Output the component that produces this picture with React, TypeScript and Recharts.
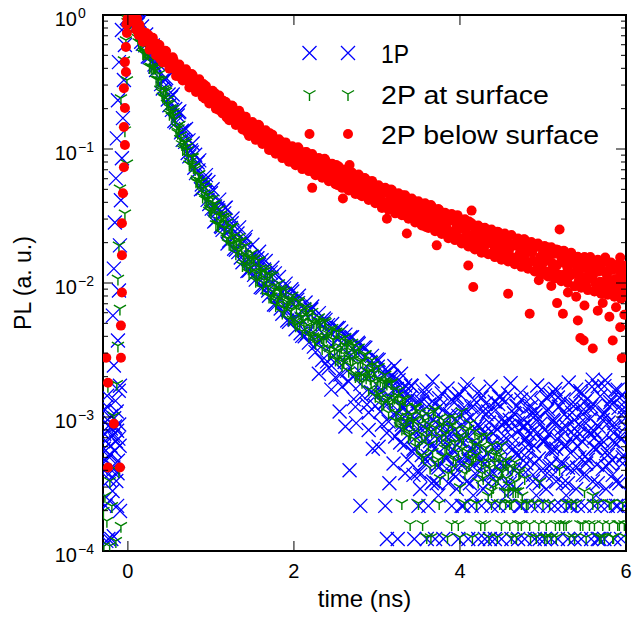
import React from 'react';
import { ScatterChart, Scatter, XAxis, YAxis, ReferenceLine, Legend } from 'recharts';

// ---------- labels / ticks ----------
const seriesNames = ['1P', '2P at surface', '2P below surface'];
const seriesColors = ['#0000ff', '#008000', '#ff0000'];
const legendTextWidths = [28, 168, 218];
const xTicks = [0, 2, 4, 6];
const yTicks = [
  0.0001, 0.0002, 0.0003, 0.0004, 0.0005, 0.0006, 0.0007, 0.0008, 0.0009,
  0.001, 0.002, 0.003, 0.004, 0.005, 0.006, 0.007, 0.008, 0.009,
  0.01, 0.02, 0.03, 0.04, 0.05, 0.06, 0.07, 0.08, 0.09,
  0.1, 0.2, 0.3, 0.4, 0.5, 0.6, 0.7, 0.8, 0.9, 1,
];
const xLabel = 'time (ns)';
const yLabel = 'PL (a. u.)';

// ---------- time grids (ns) ----------
const decayT = [
  0, 0.04, 0.08, 0.12, 0.16, 0.2, 0.24, 0.28, 0.32, 0.36,
  0.4, 0.44, 0.48, 0.52, 0.56, 0.6, 0.64, 0.68, 0.72, 0.76,
  0.8, 0.84, 0.88, 0.92, 0.96, 1, 1.04, 1.08, 1.12, 1.16,
  1.2, 1.24, 1.28, 1.32, 1.36, 1.4, 1.44, 1.48, 1.52, 1.56,
  1.6, 1.64, 1.68, 1.72, 1.76, 1.8, 1.84, 1.88, 1.92, 1.96,
  2, 2.04, 2.08, 2.12, 2.16, 2.2, 2.24, 2.28, 2.32, 2.36,
  2.4, 2.44, 2.48, 2.52, 2.56, 2.6, 2.64, 2.68, 2.72, 2.76,
  2.8, 2.84, 2.88, 2.92, 2.96, 3, 3.04, 3.08, 3.12, 3.16,
  3.2, 3.24, 3.28, 3.32, 3.36, 3.4, 3.44, 3.48, 3.52, 3.56,
  3.6, 3.64, 3.68, 3.72, 3.76, 3.8, 3.84, 3.88, 3.92, 3.96,
  4, 4.04, 4.08, 4.12, 4.16, 4.2, 4.24, 4.28, 4.32, 4.36,
  4.4, 4.44, 4.48, 4.52, 4.56, 4.6, 4.64, 4.68, 4.72, 4.76,
  4.8, 4.84, 4.88, 4.92, 4.96, 5, 5.04, 5.08, 5.12, 5.16,
  5.2, 5.24, 5.28, 5.32, 5.36, 5.4, 5.44, 5.48, 5.52, 5.56,
  5.6, 5.64, 5.68, 5.72, 5.76, 5.8, 5.84, 5.88, 5.92, 5.96,
  6,
];
const decayT2 = [
  0.02, 0.06, 0.1, 0.14, 0.18, 0.22, 0.26, 0.3, 0.34, 0.38,
  0.42, 0.46, 0.5, 0.54, 0.58, 0.62, 0.66, 0.7, 0.74, 0.78,
  0.82, 0.86, 0.9, 0.94, 0.98, 1.02, 1.06, 1.1, 1.14, 1.18,
  1.22, 1.26, 1.3, 1.34, 1.38, 1.42, 1.46, 1.5, 1.54, 1.58,
  1.62, 1.66, 1.7, 1.74, 1.78, 1.82, 1.86, 1.9, 1.94, 1.98,
  2.02, 2.06, 2.1, 2.14, 2.18, 2.22, 2.26, 2.3, 2.34, 2.38,
  2.42, 2.46, 2.5, 2.54, 2.58, 2.62, 2.66, 2.7, 2.74, 2.78,
  2.82, 2.86, 2.9, 2.94, 2.98, 3.02, 3.06, 3.1, 3.14, 3.18,
  3.22, 3.26, 3.3, 3.34, 3.38, 3.42, 3.46, 3.5, 3.54, 3.58,
  3.62, 3.66, 3.7, 3.74, 3.78, 3.82, 3.86, 3.9, 3.94, 3.98,
  4.02, 4.06, 4.1, 4.14, 4.18, 4.22, 4.26, 4.3, 4.34, 4.38,
  4.42, 4.46, 4.5, 4.54, 4.58, 4.62, 4.66, 4.7, 4.74, 4.78,
  4.82, 4.86, 4.9, 4.94, 4.98, 5.02, 5.06, 5.1, 5.14, 5.18,
  5.22, 5.26, 5.3, 5.34, 5.38, 5.42, 5.46, 5.5, 5.54, 5.58,
  5.62, 5.66, 5.7, 5.74, 5.78, 5.82, 5.86, 5.9, 5.94, 5.98,
];
const decayT3 = [
  0.01, 0.05, 0.09, 0.13, 0.17, 0.21, 0.25, 0.29, 0.33, 0.37,
  0.41, 0.45, 0.49, 0.53, 0.57, 0.61, 0.65, 0.69, 0.73, 0.77,
  0.81, 0.85, 0.89, 0.93, 0.97, 1.01, 1.05, 1.09, 1.13, 1.17,
  1.21, 1.25, 1.29, 1.33, 1.37, 1.41, 1.45, 1.49, 1.53, 1.57,
  1.61, 1.65, 1.69, 1.73, 1.77, 1.81, 1.85, 1.89, 1.93, 1.97,
  2.01, 2.05, 2.09, 2.13, 2.17, 2.21, 2.25, 2.29, 2.33, 2.37,
  2.41, 2.45, 2.49, 2.53, 2.57, 2.61, 2.65, 2.69, 2.73, 2.77,
  2.81, 2.85, 2.89, 2.93, 2.97, 3.01, 3.05, 3.09, 3.13, 3.17,
  3.21, 3.25, 3.29, 3.33, 3.37, 3.41, 3.45, 3.49, 3.53, 3.57,
  3.61, 3.65, 3.69, 3.73, 3.77, 3.81, 3.85, 3.89, 3.93, 3.97,
  4.01, 4.05, 4.09, 4.13, 4.17, 4.21, 4.25, 4.29, 4.33, 4.37,
  4.41, 4.45, 4.49, 4.53, 4.57, 4.61, 4.65, 4.69, 4.73, 4.77,
  4.81, 4.85, 4.89, 4.93, 4.97, 5.01, 5.05, 5.09, 5.13, 5.17,
  5.21, 5.25, 5.29, 5.33, 5.37, 5.41, 5.45, 5.49, 5.53, 5.57,
  5.61, 5.65, 5.69, 5.73, 5.77, 5.81, 5.85, 5.89, 5.93, 5.97,
];
const decayT4 = [
  0.03, 0.07, 0.11, 0.15, 0.19, 0.23, 0.27, 0.31, 0.35, 0.39,
  0.43, 0.47, 0.51, 0.55, 0.59, 0.63, 0.67, 0.71, 0.75, 0.79,
  0.83, 0.87, 0.91, 0.95, 0.99, 1.03, 1.07, 1.11, 1.15, 1.19,
  1.23, 1.27, 1.31, 1.35, 1.39, 1.43, 1.47, 1.51, 1.55, 1.59,
  1.63, 1.67, 1.71, 1.75, 1.79, 1.83, 1.87, 1.91, 1.95, 1.99,
  2.03, 2.07, 2.11, 2.15, 2.19, 2.23, 2.27, 2.31, 2.35, 2.39,
  2.43, 2.47, 2.51, 2.55, 2.59, 2.63, 2.67, 2.71, 2.75, 2.79,
  2.83, 2.87, 2.91, 2.95, 2.99, 3.03, 3.07, 3.11, 3.15, 3.19,
  3.23, 3.27, 3.31, 3.35, 3.39, 3.43, 3.47, 3.51, 3.55, 3.59,
  3.63, 3.67, 3.71, 3.75, 3.79, 3.83, 3.87, 3.91, 3.95, 3.99,
  4.03, 4.07, 4.11, 4.15, 4.19, 4.23, 4.27, 4.31, 4.35, 4.39,
  4.43, 4.47, 4.51, 4.55, 4.59, 4.63, 4.67, 4.71, 4.75, 4.79,
  4.83, 4.87, 4.91, 4.95, 4.99, 5.03, 5.07, 5.11, 5.15, 5.19,
  5.23, 5.27, 5.31, 5.35, 5.39, 5.43, 5.47, 5.51, 5.55, 5.59,
  5.63, 5.67, 5.71, 5.75, 5.79, 5.83, 5.87, 5.91, 5.95, 5.99,
];

// ---------- 1P (blue) ----------
const blueDecayV = [
  0.93, 0.99, 0.933, 0.851, 0.631, 0.661, 0.49, 0.543, 0.427, 0.437,
  0.305, 0.331, 0.234, 0.243, 0.162, 0.178, 0.133, 0.138, 0.0933, 0.0977,
  0.0724, 0.0794, 0.0501, 0.0575, 0.0417, 0.0468, 0.0288, 0.0363, 0.0266, 0.0331,
  0.0197, 0.0257, 0.018, 0.0234, 0.0155, 0.0204, 0.0123, 0.0155, 0.0115, 0.0153,
  0.00933, 0.0126, 0.00933, 0.012, 0.00692, 0.00933, 0.00646, 0.00912, 0.00525, 0.00724,
  0.00543, 0.0075, 0.00422, 0.00638, 0.00422, 0.00638, 0.00335, 0.00519, 0.00367, 0.00543,
  0.0026, 0.00422, 0.00285, 0.00462, 0.00207, 0.00376, 0.00221, 0.00394, 0.00136, 0.00299,
  0.00176, 0.00331, 0.00124, 0.00257, 0.0015, 0.00269, 0.0011, 0.00204, 0.000759, 0.002,
  0.00105, 0.00162, 0.000646, 0.00162, 0.00089, 0.0014, 0.00058, 0.0011, 0.00037, 0.00085,
  0.0016, 0.00066, 0.00095, 0.00032, 0.0012, 0.00075, 0.0005, 0.00105, 0.00043, 0.0014,
  0.00066, 0.000217, 0.00095, 0.00058, 0.0012, 0.00037, 0.00085, 0.0005, 0.00105, 0.000123,
  0.00075, 0.00043, 0.0014, 0.00066, 0.00032, 0.00095, 0.00058, 0.0012, 0.000217, 0.00085,
  0.0005, 0.00105, 0.00037, 0.00075, 0.000123, 0.00066, 0.0014, 0.00043, 0.00095, 0.00058,
  0.0012, 0.00032, 0.00085, 0.000217, 0.00066, 0.0016, 0.0005, 0.00105, 0.00037, 0.00075,
  0.0019, 0.00058, 0.000123, 0.00095, 0.00043, 0.0012, 0.00066, 0.000217, 0.0014, 0.0005,
  0.00085,
];
const blueDecay2V = [
  0.98, 0.955, 0.881, 0.902, 0.61, 0.716, 0.486, 0.592, 0.389, 0.454,
  0.283, 0.339, 0.212, 0.255, 0.158, 0.191, 0.117, 0.141, 0.0881, 0.11,
  0.0661, 0.0822, 0.0507, 0.0638, 0.0389, 0.0501, 0.0295, 0.0419, 0.0249, 0.0365,
  0.0207, 0.0303, 0.0177, 0.026, 0.0143, 0.0221, 0.0124, 0.0193, 0.0106, 0.0171,
  0.00923, 0.0146, 0.00804, 0.013, 0.00684, 0.0111, 0.00589, 0.00989, 0.00513, 0.00865,
  0.00452, 0.00804, 0.00403, 0.00716, 0.00359, 0.00668, 0.00305, 0.00596, 0.00266, 0.00531,
  0.00232, 0.00495, 0.00197, 0.00462, 0.00168, 0.00412, 0.00184, 0.00394, 0.00119, 0.00351,
  0.00145, 0.00329, 0.00108, 0.00286, 0.00121, 0.00266, 0.00088, 0.00226, 0.000923, 0.00202,
  0.000716, 0.00188, 0.00088, 0.00172, 0.00108, 0.0017, 0.00078, 0.00125, 0.00052, 0.00145,
  0.00088, 0.00062, 0.0011, 0.00042, 0.0015, 0.00092, 0.00068, 0.00135, 0.00055, 0.00102,
  0.00072, 0.0016, 0.00048, 0.00118, 0.00082, 0.00062, 0.0014, 0.00045, 0.0011, 0.00078,
  0.00058, 0.00125, 0.00088, 0.00042, 0.0015, 0.00072, 0.00105, 0.00052, 0.00135, 0.00085,
  0.00062, 0.0012, 0.00045, 0.00098, 0.0016, 0.00068, 0.00115, 0.00055, 0.00088, 0.0014,
  0.00072, 0.00105, 0.00042, 0.00125, 0.00082, 0.0006, 0.0015, 0.00092, 0.00048, 0.0012,
  0.00078, 0.0017, 0.00062, 0.00108, 0.00052, 0.00135, 0.00085, 0.0016, 0.00068, 0.00118,
];
const blueDecay3V = [
  0.98, 0.97, 0.881, 0.879, 0.82, 0.593, 0.574, 0.526, 0.413, 0.465,
  0.324, 0.33, 0.255, 0.196, 0.199, 0.188, 0.137, 0.113, 0.116, 0.0944,
  0.0906, 0.0693, 0.0543, 0.0587, 0.0568, 0.0359, 0.0372, 0.0348, 0.0262, 0.0363,
  0.0241, 0.0279, 0.0221, 0.017, 0.0197, 0.0209, 0.0151, 0.0131, 0.0158, 0.0135,
  0.0148, 0.0112, 0.00879, 0.0111, 0.0118, 0.00791, 0.00841, 0.0082, 0.00628, 0.00897,
  0.00532, 0.00708, 0.00542, 0.004, 0.00552, 0.00634, 0.00419, 0.00358, 0.00494, 0.00407,
  0.00485, 0.00345, 0.00255, 0.00378, 0.00435, 0.00257, 0.00295, 0.00292, 0.00208, 0.00358,
  0.00211, 0.00278, 0.0021, 0.00153, 0.00209, 0.00237, 0.00153, 0.00128, 0.00173, 0.00139,
  0.00162, 0.00112, 0.00081, 0.00118, 0.00132,
];
const blueEarlyT = [
  -0.29, -0.28, -0.27, -0.26, -0.25, -0.24, -0.23, -0.22, -0.21, -0.2,
  -0.19, -0.18, -0.17, -0.16, -0.15, -0.14, -0.13, -0.12, -0.11, -0.1, -0.095,
  -0.285, -0.265, -0.245, -0.225, -0.205, -0.185, -0.165, -0.145, -0.125, -0.105,
  -0.27, -0.2, -0.13, -0.29, -0.255, -0.215, -0.175, -0.135, -0.115, -0.235, -0.155,
  -0.012, -0.072, -0.036, -0.108, -0.048, -0.12, -0.06, -0.133, -0.072, -0.145,
  -0.084, -0.157, -0.096, -0.169, -0.108, -0.181, -0.12, -0.169, -0.096,
];
const blueEarlyV = [
  0.00111, 0.000396, 0.000664, 0.000119, 0.00144, 0.000513, 0.000861, 0.000237, 0.00061, 0.00102,
  0.000396, 0.000724, 0.000129, 0.00056, 0.00132, 0.000333, 0.000789, 0.000471, 0.00157, 0.00061, 0.000199,
  0.00075, 0.00047, 0.00095, 0.00034, 0.00082, 0.00028, 0.00098, 0.00066, 0.00038, 0.00088,
  0.000217, 0.000123, 0.000217, 0.00058, 0.0012, 0.00052, 0.00042, 0.0011, 0.00069, 0.000123, 0.00085,
  0.95, 0.773, 0.597, 0.445, 0.327, 0.231, 0.17, 0.12, 0.0853, 0.0604,
  0.0414, 0.0283, 0.0191, 0.0128, 0.00879, 0.00571, 0.00372, 0.00242, 0.00171,
];
const blueExtraT = [
  2.67, 2.8, 3.1, 3.15, 2.95, 2.9, 3.2, 2.55, 2.62, 3.12, 2.3, 2.45, 2.75, 3.02, 3.3, 3.34,
  3.25, 3.45, 3.6, 3.7, 3.8, 3.98, 4.1, 4.22, 4.3, 4.42, 4.5, 4.62, 4.7,
  4.78, 4.9, 5.02, 5.1, 5.18, 5.3, 5.38, 5.46, 5.58, 5.66, 5.74, 5.86, 5.94,
  3.5, 3.62, 3.9, 4.02, 4.14, 4.26, 4.38, 4.46, 4.58, 4.74, 4.86, 4.94,
  5.06, 5.14, 5.22, 5.34, 5.42, 5.5, 5.62, 5.7, 5.78, 5.9, 5.98,
  3.42, 3.58, 3.7, 3.82, 3.94, 4.06, 4.18, 4.3, 4.42, 4.54, 4.66, 4.78,
  4.9, 5.02, 5.14, 5.26, 5.38, 5.5, 5.62, 5.74, 5.86, 5.98, 3.54, 4.0,
  4.7, 5.1, 5.44, 5.8, 5.56, 4.84, 3.66, 3.86, 4.12, 4.34, 4.6, 4.96, 5.3, 5.66, 5.92,
  3.05, 3.11, 3.17, 3.23, 3.27, 3.29, 3.21, 3.13,
];
const blueExtraV = [
  0.0004, 0.000217, 0.000217, 0.00032, 0.00058, 0.0008, 0.00045, 0.0011, 0.00085, 0.000123, 0.0021, 0.0016, 0.0009, 0.0006, 0.0012, 0.00038,
  0.000123, 0.000123, 0.000123, 0.000123, 0.000123, 0.000123, 0.000123, 0.000123, 0.000123, 0.000123, 0.000123, 0.000123, 0.000123,
  0.000123, 0.000123, 0.000123, 0.000123, 0.000123, 0.000123, 0.000123, 0.000123, 0.000123, 0.000123, 0.000123, 0.000123, 0.000123,
  0.000217, 0.000217, 0.000217, 0.000217, 0.000217, 0.000217, 0.000217, 0.000217, 0.000217, 0.000217, 0.000217, 0.000217,
  0.000217, 0.000217, 0.000217, 0.000217, 0.000217, 0.000217, 0.000217, 0.000217, 0.000217, 0.000217, 0.000217,
  0.0009, 0.00048, 0.00125, 0.0006, 0.0008, 0.0011, 0.00055, 0.0007, 0.0013, 0.0009, 0.0004, 0.00068,
  0.0011, 0.0008, 0.0015, 0.0006, 0.00095, 0.0013, 0.0007, 0.0017, 0.0009, 0.0011, 0.0013, 0.00045,
  0.0009, 0.00045, 0.00075, 0.00045, 0.00115, 0.00075, 0.00032, 0.00032, 0.00032, 0.00032, 0.00032, 0.00032, 0.00032, 0.00032, 0.00032,
  0.0016, 0.0013, 0.0019, 0.00105, 0.0015, 0.0021, 0.0024, 0.0022,
];
const blueTailT = [
  3.31, 3.33, 3.35, 3.37, 3.39, 3.41, 3.43, 3.45, 3.47, 3.49,
  3.51, 3.53, 3.55, 3.57, 3.59, 3.61, 3.63, 3.65, 3.67, 3.69,
  3.71, 3.73, 3.75, 3.77, 3.79, 3.81, 3.83, 3.85, 3.87, 3.89,
  3.91, 3.93, 3.95, 3.97, 3.99, 4.01, 4.03, 4.05, 4.07, 4.09,
  4.11, 4.13, 4.15, 4.17, 4.19, 4.21, 4.23, 4.25, 4.27, 4.29,
  4.31, 4.33, 4.35, 4.37, 4.39, 4.41, 4.43, 4.45, 4.47, 4.49,
  4.51, 4.53, 4.55, 4.57, 4.59, 4.61, 4.63, 4.65, 4.67, 4.69,
  4.71, 4.73, 4.75, 4.77, 4.79, 4.81, 4.83, 4.85, 4.87, 4.89,
  4.91, 4.93, 4.95, 4.97, 4.99, 5.01, 5.03, 5.05, 5.07, 5.09,
  5.11, 5.13, 5.15, 5.17, 5.19, 5.21, 5.23, 5.25, 5.27, 5.29,
  5.31, 5.33, 5.35, 5.37, 5.39, 5.41, 5.43, 5.45, 5.47, 5.49,
  5.51, 5.53, 5.55, 5.57, 5.59, 5.61, 5.63, 5.65, 5.67, 5.69,
  5.71, 5.73, 5.75, 5.77, 5.79, 5.81, 5.83, 5.85, 5.87, 5.89,
  5.91, 5.93, 5.95, 5.97, 5.99,
];
const blueTailV = [
  0.00115, 0.00062, 0.00145, 0.00048, 0.00088, 0.00172, 0.00055, 0.00098, 0.00071, 0.00132,
  0.00039, 0.00082, 0.00158, 0.00066, 0.00105, 0.00051, 0.00124, 0.00078, 0.00185, 0.00058,
  0.00092, 0.00044, 0.00138, 0.00069, 0.00112, 0.00085, 0.00049, 0.00163, 0.00074, 0.00101,
  0.00057, 0.00128, 0.00036, 0.00094, 0.00149, 0.00067, 0.00083, 0.00118, 0.00052, 0.00176,
  0.00071, 0.00099, 0.00043, 0.00134, 0.00061, 0.00087, 0.00155, 0.00047, 0.00109, 0.00076,
  0.00126, 0.00054, 0.00091, 0.00168, 0.00064, 0.00038, 0.00113, 0.00081, 0.00142, 0.00059,
  0.00097, 0.00072, 0.00131, 0.00046, 0.00086, 0.00179, 0.00063, 0.00107, 0.00053, 0.00121,
  0.00079, 0.00152, 0.00041, 0.00095, 0.00068, 0.00116, 0.00056, 0.00139, 0.00084, 0.00061,
  0.00103, 0.00172, 0.00049, 0.00089, 0.00127, 0.00065, 0.00037, 0.00111, 0.00075, 0.00146,
  0.00058, 0.00093, 0.00162, 0.00069, 0.00119, 0.00045, 0.00082, 0.00135, 0.00062, 0.00099,
  0.00181, 0.00054, 0.00108, 0.00073, 0.00124, 0.00042, 0.00088, 0.00156, 0.00066, 0.00114,
  0.00051, 0.00136, 0.00079, 0.00097, 0.00168, 0.00059, 0.00121, 0.00044, 0.00085, 0.00143,
  0.00067, 0.00104, 0.00188, 0.00056, 0.00091, 0.00129, 0.00048, 0.00076, 0.00159, 0.00063,
  0.00117, 0.00071, 0.00144, 0.00052, 0.00098,
];
const blueLowT = [
  3.44, 3.52, 3.58, 3.68, 3.74, 3.84, 3.92, 3.96, 4.04, 4.08,
  4.16, 4.24, 4.28, 4.36, 4.44, 4.48, 4.56, 4.64, 4.68, 4.76,
  4.8, 4.88, 4.92, 5, 5.04, 5.12, 5.16, 5.24, 5.28, 5.36,
  5.4, 5.48, 5.52, 5.6, 5.64, 5.72, 5.76, 5.84, 5.88, 5.96,
];
const blueLowV = [
  0.00037, 0.00029, 0.00045, 0.00033, 0.00026, 0.00041, 0.00037, 0.00029, 0.00045, 0.00033,
  0.00026, 0.00041, 0.00029, 0.00037, 0.00033, 0.00045, 0.00026, 0.00041, 0.00029, 0.00037,
  0.00045, 0.00033, 0.00026, 0.00041, 0.00029, 0.00037, 0.00033, 0.00045, 0.00026, 0.00041,
  0.00029, 0.00037, 0.00045, 0.00033, 0.00026, 0.00041, 0.00029, 0.00037, 0.00033, 0.00045,
];

// ---------- 2P at surface (green) ----------
const greenDecayV = [
  0.933, 0.955, 0.912, 0.676, 0.646, 0.537, 0.525, 0.412, 0.407, 0.331,
  0.327, 0.24, 0.234, 0.188, 0.178, 0.132, 0.127, 0.102, 0.0985, 0.0759,
  0.0741, 0.0562, 0.0575, 0.0468, 0.0455, 0.0339, 0.0372, 0.0275, 0.0327, 0.0257,
  0.0285, 0.0195, 0.0226, 0.0178, 0.0204, 0.0141, 0.0158, 0.0132, 0.0152, 0.0106,
  0.0129, 0.0105, 0.0117, 0.00794, 0.00955, 0.00759, 0.00912, 0.00646, 0.00724, 0.00617,
  0.0075, 0.00495, 0.00624, 0.00519, 0.00596, 0.00422, 0.00507, 0.00403, 0.0049, 0.00385,
  0.00442, 0.00305, 0.00376, 0.00313, 0.0038, 0.00266, 0.00335, 0.00272, 0.00343, 0.00207,
  0.0026, 0.00204, 0.0024, 0.00195, 0.0023, 0.00155, 0.0019, 0.00129, 0.00178, 0.00125,
  0.0016, 0.000933, 0.00129, 0.00088, 0.0012, 0.000741, 0.00095, 0.0006, 0.0011, 0.0005,
  0.00082, 0.00042, 0.0011, 0.0007, 0.00035, 0.00095, 0.0006, 0.001, 0.0005, 0.00082,
  0.0003, 0.0007, 0.00042, 0.0009, 0.0005, 0.000228, 0.0006, 0.00035, 0.00072, 0.00042,
  0.0003, 0.00055, 0.000228, 0.00046, 0.00035, 0.000159, 0.00028, 0.000127, 0.0004, null,
  0.000228, 0.000159, null, 0.000127, 0.00033, null, 0.000159, 0.000228, null, 0.000127,
  0.00041, null, 0.000159, 0.000127, null, 0.000228, null, 0.000159, 0.000127, null,
  0.00026, null, 0.000127, 0.000159, null, 0.000228, 0.000127, null, 0.000159, null,
  0.000127,
];
const greenDecay2V = [
  0.871, 0.977, 0.716, 0.733, 0.519, 0.575, 0.409, 0.47, 0.331, 0.365,
  0.247, 0.269, 0.183, 0.2, 0.138, 0.152, 0.1, 0.112, 0.0767, 0.0871,
  0.0575, 0.0653, 0.0442, 0.0519, 0.0347, 0.0427, 0.0275, 0.0356, 0.0233, 0.0307,
  0.0196, 0.0264, 0.0167, 0.0221, 0.0136, 0.0191, 0.0119, 0.0168, 0.0104, 0.0147,
  0.00912, 0.013, 0.00794, 0.0114, 0.00684, 0.01, 0.00603, 0.00881, 0.00537, 0.00807,
  0.00484, 0.00724, 0.00437, 0.00668, 0.00403, 0.0061, 0.00359, 0.00556, 0.00327, 0.00513,
  0.00299, 0.00462, 0.00269, 0.00432, 0.00245, 0.00394, 0.00221, 0.00359, 0.00202, 0.00331,
  0.00183, 0.00296, 0.00161, 0.00267, 0.00144, 0.00237, 0.00124, 0.00207, 0.00108, 0.00182,
  0.000944, 0.00158, 0.000822, 0.00136, 0.000716,
];
const greenDecay3V = [
  0.944, 0.989, 0.809, 0.628, 0.607, 0.522, 0.524, 0.402, 0.407, 0.33,
  0.265, 0.275, 0.216, 0.175, 0.168, 0.143, 0.109, 0.111, 0.0871, 0.0881,
  0.0708, 0.0646, 0.0499, 0.042, 0.0425, 0.0358, 0.0393, 0.0277, 0.0313, 0.0259,
  0.0214, 0.0265, 0.0207, 0.0173, 0.0184, 0.0166, 0.0129, 0.0155, 0.0123, 0.0148,
  0.0122, 0.0123, 0.00935, 0.00796, 0.00893, 0.00789, 0.00889, 0.00653, 0.0075, 0.0064,
  0.00516, 0.0074, 0.00562, 0.00473, 0.00568, 0.00515, 0.00382, 0.0052, 0.00395, 0.00525,
  0.0042, 0.00444, 0.00321, 0.0027, 0.00332, 0.00294, 0.00361, 0.00242, 0.00305, 0.00251,
  0.00205, 0.0029, 0.00218, 0.00182, 0.00215, 0.00193, 0.0014, 0.00186, 0.00138, 0.00179,
  0.0014, 0.00145, 0.00102, 0.00084, 0.00101,
];
const greenDecay4V = [
  0.891, 0.933, 0.845, 0.619, 0.515, 0.533, 0.453, 0.404, 0.389, 0.279,
  0.281, 0.219, 0.202, 0.189, 0.146, 0.119, 0.115, 0.104, 0.0804, 0.0733,
  0.0596, 0.0569, 0.0547, 0.0425, 0.0357, 0.0389, 0.0324, 0.0292, 0.0313, 0.0215,
  0.0252, 0.0197, 0.0203, 0.0207, 0.0159, 0.0136, 0.0152, 0.015, 0.0117, 0.0119,
  0.01, 0.0108, 0.0115, 0.00859, 0.00731, 0.00867, 0.0075, 0.00692, 0.0076, 0.00536,
  0.00667, 0.00507, 0.00564, 0.00643, 0.00476, 0.00401, 0.00493, 0.00508, 0.00377, 0.00398,
  0.00327, 0.00382, 0.00436, 0.00307, 0.00258, 0.00343, 0.00288, 0.00269, 0.00314, 0.002,
  0.00263, 0.00198, 0.00217, 0.00245, 0.00179, 0.00148, 0.00178, 0.00182, 0.0013, 0.00134,
  0.00108, 0.00123, 0.00137, 0.000944, 0.000776,
];
const greenEarlyT = [
  -0.289, -0.253, -0.217, -0.277, -0.193, -0.145, -0.241, -0.169, -0.108, -0.295, -0.084, -0.22,
  -0.004, -0.024, -0.048, -0.012, -0.084, -0.036, -0.012, -0.096, -0.036, -0.108, -0.12, -0.096, -0.12, -0.133,
];
const greenEarlyV = [
  0.000109, 0.000168, 0.000333, 0.000258, 0.000217, 0.000119, 0.00171, 0.00102, 0.000396, 0.000199, 0.000154, 0.000109,
  0.887, 0.65, 0.461, 0.327, 0.24, 0.138, 0.0782, 0.0509, 0.0331, 0.0191, 0.0108, 0.00644, 0.00341, 0.00177,
];
const greenExtraT = [
  3.46, 3.54, 3.62, 3.7, 3.78, 3.86, 3.94, 4.02, 4.1, 4.18, 4.26, 4.34, 4.42, 4.5, 4.58, 4.66,
  4.74, 4.9, 5.1, 5.34, 5.5, 5.66, 5.9, 4.45, 4.55, 4.3, 4.06, 3.98, 3.5, 3.4, 3.6, 3.75,
  3.85, 4.15, 4.38, 4.62, 4.82, 5.02, 5.2, 5.56, 5.74, 5.96,
  3.42, 3.46, 3.5, 3.54, 3.58, 3.62, 3.66, 3.7, 3.74, 3.78, 3.82, 3.86, 3.9, 3.94, 3.98, 4.02, 4.06, 4.1,
  4.14, 4.18, 4.22, 4.26, 4.3, 4.34, 4.38, 4.42, 4.46, 4.5, 4.54, 4.58, 4.62, 4.66, 4.7, 4.74, 4.78,
  3.55, 3.9, 4.25, 4.5, 4.7, 4.95, 5.15, 5.25, 5.45, 5.62, 5.8, 5.98,
  3.65, 4.0, 4.35, 4.85, 5.05, 5.38, 5.7, 5.85,
  3.3, 4.2, 4.6, 5.0, 5.28, 5.6, 5.82,
  3.43, 3.47, 3.51, 3.55, 3.59, 3.63, 3.67, 3.71, 3.75, 3.79, 3.83, 3.87, 3.91, 3.95, 3.99, 4.03, 4.07,
  4.11, 4.15, 4.19, 4.23, 4.27, 4.31, 4.35, 4.39, 4.43, 4.47, 4.51, 4.55, 4.59, 4.63, 4.67, 4.71, 4.75,
];
const greenExtraV = [
  0.0012, 0.00075, 0.00105, 0.00046, 0.00088, 0.00038, 0.00065, 0.0011, 0.00055, 0.00078, 0.00046, 0.00026, 0.00052, 0.0004, 0.00028, 0.00046,
  0.000159, 0.000228, 0.000127, 0.000228, 0.00028, 0.000228, 0.000159, 0.000127, 0.000228, 0.000159, 0.000228, 0.000159, 0.000228, 0.000159, 0.000127, 0.000228,
  0.000127, 0.000127, 0.000228, 0.000127, 0.000228, 0.000127, 0.000159, 0.000159, 0.000127, 0.000228,
  0.00105, 0.00068, 0.00088, 0.00052, 0.00095, 0.00062, 0.00078, 0.00115, 0.00048, 0.00072, 0.00058, 0.00085, 0.00042, 0.00098, 0.00055, 0.00068, 0.00038, 0.00082,
  0.00048, 0.00062, 0.00033, 0.00072, 0.00042, 0.00055, 0.00028, 0.00046, 0.00035, 0.00062, 0.00028, 0.00042, 0.000228, 0.00033, 0.00028, 0.000228, 0.00035,
  0.000159, 0.000159, 0.000159, 0.000159, 0.000159, 0.000159, 0.000159, 0.000159, 0.000159, 0.000159, 0.000159, 0.000159,
  0.000127, 0.000127, 0.000127, 0.000127, 0.000127, 0.000127, 0.000127, 0.000127,
  0.000228, 0.000228, 0.000228, 0.000228, 0.000228, 0.000228, 0.000228,
  0.00092, 0.00118, 0.00064, 0.00102, 0.00071, 0.00089, 0.00055, 0.00083, 0.00098, 0.00051, 0.00076, 0.00064, 0.00088, 0.00047, 0.00072, 0.00058, 0.00079,
  0.00044, 0.00066, 0.00052, 0.00071, 0.00038, 0.00059, 0.00046, 0.00062, 0.00033, 0.00051, 0.00039, 0.00048, 0.00031, 0.00042, 0.00028, 0.00038, 0.00026,
];

// ---------- 2P below surface (red) ----------
const redDecayV = [
  0.946, 0.964, 0.955, 0.805, 0.764, 0.676, 0.649, 0.589, 0.598, 0.542,
  0.538, 0.474, 0.467, 0.429, 0.432, 0.378, 0.383, 0.353, 0.35, 0.315,
  0.313, 0.284, 0.288, 0.267, 0.268, 0.236, 0.245, 0.209, 0.219, 0.2,
  0.209, 0.178, 0.184, 0.157, 0.17, 0.151, 0.157, 0.135, 0.14, 0.127,
  0.138, 0.115, 0.122, 0.112, 0.116, 0.1, 0.104, 0.0902, 0.1, 0.0912,
  0.0989, 0.08, 0.0891, 0.0794, 0.0902, 0.0708, 0.0785, 0.07, 0.0785, 0.0684,
  0.0733, 0.061, 0.0668, 0.07, 0.0589, 0.0631, 0.0537, 0.0617, 0.055, 0.061,
  0.0495, 0.0543, 0.0484, 0.0543, 0.0427, 0.0479, 0.0422, 0.049, 0.0389, 0.0432,
  0.0398, 0.0437, 0.0347, 0.0398, 0.0347, 0.0403, 0.0343, 0.0367, 0.0292, 0.0367,
  0.0305, 0.0367, 0.0275, 0.0305, 0.0245, 0.0309, 0.0257, 0.0309, 0.0234, 0.0269,
  0.0216, 0.0275, 0.0234, 0.0272, 0.0207, 0.0234, 0.0188, 0.0232, 0.02, 0.0237,
  0.017, 0.0211, 0.0178, 0.0216, 0.0166, 0.0188, 0.0155, 0.0202, 0.0166, 0.0188,
  0.0145, 0.0176, 0.0146, 0.0186, 0.0145, 0.017, 0.0122, 0.0168, 0.0135, 0.0178,
  0.0115, 0.0143, 0.0106, 0.0155, 0.0117, 0.0155, 0.0108, 0.013, 0.00955, 0.0143,
  0.0112, 0.0146, 0.00977, 0.0123, 0.00902, 0.0126, 0.00966, 0.0135, 0.00881, 0.0112,
  0.00944,
];
const redDecay2V = [
  0.891, 0.977, 0.776, 0.841, 0.631, 0.733, 0.55, 0.676, 0.501, 0.596,
  0.442, 0.537, 0.398, 0.484, 0.351, 0.427, 0.324, 0.394, 0.288, 0.355,
  0.266, 0.331, 0.245, 0.295, 0.219, 0.272, 0.2, 0.251, 0.184, 0.224,
  0.164, 0.209, 0.151, 0.193, 0.14, 0.174, 0.125, 0.159, 0.117, 0.15,
  0.109, 0.138, 0.0982, 0.128, 0.0923, 0.118, 0.0855, 0.112, 0.0804, 0.105,
  0.0757, 0.1, 0.0708, 0.0944, 0.0684, 0.0916, 0.0638, 0.0855, 0.061, 0.0822,
  0.0575, 0.0776, 0.0546, 0.0741, 0.0513, 0.0703, 0.049, 0.0668, 0.0462, 0.0646,
  0.0444, 0.0603, 0.0417, 0.0578, 0.0394, 0.0537, 0.0363, 0.0513, 0.0351, 0.0495,
  0.0331, 0.0468, 0.032, 0.0452, 0.0302, 0.0427, 0.0283, 0.0407, 0.0269, 0.0394,
  0.0257, 0.0372, 0.0243, 0.0356, 0.0232, 0.0335, 0.0216, 0.0327, 0.0209, 0.0309,
  0.0197, 0.0299, 0.0187, 0.0279, 0.0178, 0.0269, 0.0168, 0.0258, 0.0164, 0.0251,
  0.0156, 0.024, 0.0149, 0.0234, 0.0145, 0.0228, 0.0138, 0.0215, 0.0132, 0.0211,
  0.0128, 0.0202, 0.0122, 0.0197, 0.0116, 0.0189, 0.0112, 0.0185, 0.0108, 0.0176,
  0.0103, 0.0172, 0.01, 0.0168, 0.00944, 0.0157, 0.00923, 0.0156, 0.00885, 0.015,
  0.00865, 0.0149, 0.00832, 0.0144, 0.00817, 0.0142, 0.00789, 0.0137, 0.00762, 0.0135,
];
const redDecay3V = [
  0.969, 0.99, 0.867, 0.708, 0.734, 0.662, 0.706, 0.564, 0.613, 0.535,
  0.469, 0.541, 0.456, 0.404, 0.429, 0.399, 0.335, 0.378, 0.322, 0.363,
  0.317, 0.319, 0.265, 0.237, 0.257, 0.236, 0.261, 0.202, 0.228, 0.199,
  0.174, 0.211, 0.176, 0.156, 0.17, 0.158, 0.13, 0.155, 0.13, 0.152,
  0.132, 0.135, 0.11, 0.0984, 0.11, 0.1007, 0.113, 0.0887, 0.102, 0.0911,
  0.0787, 0.103, 0.0847, 0.0755, 0.0871, 0.0817, 0.0658, 0.0832, 0.0682, 0.0847,
  0.0728, 0.0766, 0.0608, 0.0537, 0.0631, 0.0583, 0.0679, 0.0513, 0.0614, 0.0537,
  0.0468, 0.0608, 0.0504, 0.0449, 0.0513, 0.048, 0.0384, 0.0485, 0.0402, 0.0499,
  0.0429, 0.0451, 0.036, 0.0321, 0.0377, 0.0348, 0.0408, 0.0305, 0.0373, 0.0318,
  0.027, 0.0382, 0.0303, 0.0264, 0.0314, 0.0293, 0.0228, 0.0307, 0.0244, 0.0321,
  0.0267, 0.0286, 0.0217, 0.0187, 0.023, 0.021, 0.0258, 0.0183, 0.0233, 0.0198,
  0.0169, 0.0241, 0.0192, 0.0169, 0.0203, 0.019, 0.0149, 0.0201, 0.0161, 0.0212,
  0.0177, 0.0191, 0.0146, 0.0128, 0.0157, 0.0143, 0.0185, 0.0123, 0.0165, 0.0136,
  0.0113, 0.0174, 0.0133, 0.0114, 0.0143, 0.0132, 0.0099, 0.0143, 0.011, 0.0156,
  0.0127, 0.014, 0.0102, 0.0087, 0.0114, 0.0103, 0.0135, 0.00904, 0.0121, 0.0101,
];
const redDecay4V = [
  0.91, 0.975, 0.943, 0.724, 0.634, 0.699, 0.624, 0.583, 0.609, 0.469,
  0.522, 0.44, 0.448, 0.462, 0.388, 0.348, 0.374, 0.37, 0.311, 0.313,
  0.277, 0.292, 0.305, 0.25, 0.224, 0.256, 0.226, 0.213, 0.229, 0.172,
  0.2, 0.167, 0.174, 0.185, 0.152, 0.135, 0.151, 0.152, 0.126, 0.129,
  0.114, 0.122, 0.131, 0.106, 0.094, 0.11, 0.0986, 0.0947, 0.104, 0.0795,
  0.0951, 0.0782, 0.0853, 0.0948, 0.0771, 0.0681, 0.0798, 0.0817, 0.0662, 0.0697,
  0.061, 0.069, 0.076, 0.0594, 0.053, 0.0652, 0.0579, 0.0556, 0.063, 0.0458,
  0.0564, 0.0466, 0.0508, 0.056, 0.0454, 0.0397, 0.0465, 0.048, 0.039, 0.041,
  0.0359, 0.0406, 0.0452, 0.0354, 0.0316, 0.0392, 0.0346, 0.0331, 0.0387, 0.0262,
  0.0345, 0.0274, 0.0308, 0.035, 0.0271, 0.0236, 0.029, 0.0304, 0.0236, 0.0253,
  0.0215, 0.0253, 0.0288, 0.0213, 0.0185, 0.0244, 0.0213, 0.0205, 0.0242, 0.0163,
  0.0217, 0.0173, 0.0195, 0.0225, 0.0175, 0.0153, 0.019, 0.02, 0.0156, 0.0167,
  0.0143, 0.0169, 0.0195, 0.0146, 0.0127, 0.0172, 0.0147, 0.0141, 0.0173, 0.0108,
  0.0153, 0.0117, 0.0136, 0.0162, 0.012, 0.0103, 0.0133, 0.0142, 0.0107, 0.0118,
  0.00986, 0.0122, 0.0145, 0.0102, 0.00881, 0.0125, 0.0107, 0.0103, 0.0127, 0.00809,
];
const redEarlyT = [
  -0.006, -0.018, -0.012, -0.024, -0.036, -0.024, -0.048, -0.036, -0.048, -0.036, -0.048,
  -0.06, -0.072, -0.072, -0.072, -0.084, -0.084,
  -0.26, -0.24, -0.169, -0.24, -0.096,
];
const redEarlyV = [
  0.93, 0.85, 0.733, 0.577, 0.445, 0.375, 0.284, 0.202, 0.146, 0.107, 0.0731,
  0.0467, 0.0279, 0.0161, 0.00849, 0.00481, 0.00277,
  0.00277, 0.0018, 0.00089, 0.00042, 0.00042,
];
const redExtraT = [
  2.22, 2.59, 3.12, 3.36, 3.72, 4.1, 4.16, 4.58, 4.84, 5.17, 5.24, 5.42, 5.45, 5.49, 5.6, 5.84, 5.93, 5.95,
  2.67, 4.14, 5.2, 5.75, 5.93,
  3.54, 3.62, 3.7, 3.78, 3.86, 3.94, 4.02, 4.1, 4.18, 4.26, 4.34, 4.42, 4.5, 4.58, 4.66, 4.74,
  4.82, 4.9, 4.98, 5.06, 5.14, 5.22, 5.3, 5.38, 5.46, 5.54, 5.62, 5.7, 5.78, 5.86, 5.94, 5.98,
  5.3, 5.5, 5.66, 5.72, 5.88, 5.98, 5.1, 4.95, 5.4, 5.8,
  1.1, 1.5, 1.7, 2.05, 2.3, 2.5, 2.75, 2.95, 3.18, 3.3, 3.45,
];
const redExtraV = [
  0.0513, 0.0427, 0.0302, 0.0234, 0.0191, 0.0135, 0.00933, 0.00832, 0.00589, 0.00708, 0.00589, 0.00525, 0.00389, 0.00372, 0.00324, 0.00372, 0.00468, 0.00275,
  0.0759, 0.0347, 0.0251, 0.0155, 0.0155,
  0.0355, 0.0295, 0.0339, 0.0272, 0.0292, 0.0232, 0.0272, 0.0226, 0.0251, 0.0191, 0.0221, 0.0186, 0.0225, 0.018, 0.0195, 0.0153,
  0.017, 0.0191, 0.0143, 0.0158, 0.0124, 0.0155, 0.0127, 0.0146, 0.0112, 0.0126, 0.00867, 0.013, 0.0105, 0.0127, 0.008, 0.0128,
  0.0085, 0.0068, 0.0062, 0.0071, 0.0066, 0.0058, 0.0095, 0.0105, 0.0079, 0.0056,
  0.195, 0.128, 0.104, 0.0845, 0.0745, 0.0625, 0.0575, 0.0462, 0.0445, 0.0372, 0.0385,
];

// ---------- build tables ----------
type Pt = { t: number; v: number };
function pairUp(ts: number[], vs: (number | null)[]): Pt[] {
  const out: Pt[] = [];
  for (let i = 0; i < ts.length && i < vs.length; i++) {
    const v = vs[i];
    if (v !== null && v !== undefined) out.push({ t: ts[i], v });
  }
  return out;
}
const blueData = [
  ...pairUp(blueEarlyT, blueEarlyV),
  ...pairUp(decayT, blueDecayV),
  ...pairUp(decayT2, blueDecay2V),
  ...pairUp(decayT3, blueDecay3V),
  ...pairUp(blueExtraT, blueExtraV),
  ...pairUp(blueTailT, blueTailV),
  ...pairUp(blueLowT, blueLowV),
];
const greenData = [
  ...pairUp(greenEarlyT, greenEarlyV),
  ...pairUp(decayT, greenDecayV),
  ...pairUp(decayT2, greenDecay2V),
  ...pairUp(decayT3, greenDecay3V),
  ...pairUp(decayT4, greenDecay4V),
  ...pairUp(greenExtraT, greenExtraV),
];
const redData = [
  ...pairUp(redEarlyT, redEarlyV),
  ...pairUp(decayT, redDecayV),
  ...pairUp(decayT2, redDecay2V),
  ...pairUp(decayT3, redDecay3V),
  ...pairUp(decayT4, redDecay4V),
  ...pairUp(redExtraT, redExtraV),
];

// ---------- layout ----------
const FONT = '"Liberation Sans", Arial, Helvetica, sans-serif';
const CHART_W = 633;
const CHART_H = 619;
const PLOT_LEFT = 103;
const PLOT_RIGHT = 626;
const PLOT_TOP = 15;
const PLOT_BOTTOM = 551;

// ---------- markers ----------
type MP = { cx: number; cy: number; color: string };
function XMark({ cx, cy, color }: MP) {
  const s = 7;
  return (
    <path
      d={`M${cx - s},${cy - s}L${cx + s},${cy + s}M${cx - s},${cy + s}L${cx + s},${cy - s}`}
      stroke={color}
      strokeWidth={1.3}
      fill="none"
    />
  );
}
function TriDown({ cx, cy, color }: MP) {
  const r = 7;
  const dx = r * 0.866;
  const dy = r * 0.5;
  return (
    <path
      d={`M${cx},${cy}L${cx},${cy + r}M${cx},${cy}L${cx - dx},${cy - dy}M${cx},${cy}L${cx + dx},${cy - dy}`}
      stroke={color}
      strokeWidth={1.4}
      fill="none"
    />
  );
}
function Dot({ cx, cy, color }: MP) {
  return <circle cx={cx} cy={cy} r={5} fill={color} stroke="none" />;
}
const markers = [XMark, TriDown, Dot];

// ---------- ticks ----------
const majorExp = (v: number) => {
  const l = Math.log10(v);
  const e = Math.round(l);
  return Math.abs(l - e) < 1e-6 ? e : null;
};

function YTick(props: any) {
  const y = props.payload && typeof props.payload.coordinate === 'number' ? props.payload.coordinate : props.y;
  const v = props.payload.value;
  const e = majorExp(v);
  const len = e === null ? 5 : 10;
  return (
    <g>
      <line x1={PLOT_LEFT} y1={y} x2={PLOT_LEFT + len} y2={y} stroke="#000" strokeWidth={1} />
      <line x1={PLOT_RIGHT} y1={y} x2={PLOT_RIGHT - len} y2={y} stroke="#000" strokeWidth={1} />
      {e !== null && (
        <g fontFamily={FONT} fill="#000">
          <text x={77} y={y + 11} textAnchor="end" fontSize={20}>10</text>
          <text x={78} y={y + 3} textAnchor="start" fontSize={14}>{e === 0 ? '0' : '\u2212' + String(-e)}</text>
        </g>
      )}
    </g>
  );
}

function XTick(props: any) {
  const x = props.payload && typeof props.payload.coordinate === 'number' ? props.payload.coordinate : props.x;
  return (
    <g>
      <line x1={x} y1={PLOT_BOTTOM} x2={x} y2={PLOT_BOTTOM - 10} stroke="#000" strokeWidth={1} />
      <line x1={x} y1={PLOT_TOP} x2={x} y2={PLOT_TOP + 10} stroke="#000" strokeWidth={1} />
      <text x={x} y={PLOT_BOTTOM + 26.5} textAnchor="middle" fontSize={20} fontFamily={FONT} fill="#000">
        {props.payload.value}
      </text>
    </g>
  );
}

function XTitle() {
  return (
    <text x={(PLOT_LEFT + PLOT_RIGHT) / 2} y={606.5} textAnchor="middle" fontSize={24} fontFamily={FONT} fill="#000">
      {xLabel}
    </text>
  );
}
function YTitle() {
  const cy = (PLOT_TOP + PLOT_BOTTOM) / 2;
  return (
    <text x={31} y={cy} transform={`rotate(-90, 31, ${cy})`} textAnchor="middle" fontSize={23} fontFamily={FONT} fill="#000">
      {yLabel}
    </text>
  );
}

const LEGEND_BASE = [63, 104, 144];
function LegendContent() {
  return (
    <svg width={CHART_W} height={CHART_H} style={{ position: 'absolute', left: 0, top: 0, overflow: 'visible' }}>
      {seriesNames.map((name, i) => {
        const M = markers[i];
        const base = LEGEND_BASE[i];
        const my = base - 10;
        return (
          <g key={name}>
            <M cx={309.5} cy={my} color={seriesColors[i]} />
            <M cx={348} cy={my} color={seriesColors[i]} />
            <text
              x={381}
              y={base}
              fontSize={25}
              fontFamily={FONT}
              fill="#000"
              textLength={legendTextWidths[i]}
              lengthAdjust="spacingAndGlyphs"
            >
              {name}
            </text>
          </g>
        );
      })}
    </svg>
  );
}

const frameLine = { stroke: '#000', strokeWidth: 2, strokeLinecap: 'square' as const };

export default function App() {
  const datasets = [blueData, greenData, redData];
  return (
    <div style={{ position: 'absolute', left: 0, top: 0, width: CHART_W, height: CHART_H, overflow: 'hidden', background: '#fff', fontFamily: FONT }}>
      <ScatterChart width={CHART_W} height={CHART_H} margin={{ top: PLOT_TOP, right: CHART_W - PLOT_RIGHT, bottom: 0, left: 0 }}>
        <XAxis
          type="number"
          dataKey="t"
          domain={[-0.3, 6]}
          allowDataOverflow
          ticks={xTicks}
          interval={0}
          height={CHART_H - PLOT_BOTTOM}
          tickSize={0}
          tickMargin={0}
          tickLine={false}
          axisLine={frameLine}
          tick={<XTick />}
          label={<XTitle />}
        />
        <YAxis
          type="number"
          dataKey="v"
          scale="log"
          domain={[0.0001, 1]}
          allowDataOverflow
          ticks={yTicks}
          interval={0}
          width={PLOT_LEFT}
          tickSize={0}
          tickMargin={0}
          tickLine={false}
          axisLine={frameLine}
          tick={<YTick />}
          label={<YTitle />}
        />
        <ReferenceLine y={1} stroke="#000" strokeWidth={2} strokeLinecap="square" ifOverflow="visible" />
        <ReferenceLine x={6} stroke="#000" strokeWidth={2} strokeLinecap="square" ifOverflow="visible" />
        {datasets.map((d, i) => {
          const M = markers[i];
          const color = seriesColors[i];
          return (
            <Scatter
              key={seriesNames[i]}
              name={seriesNames[i]}
              data={d}
              fill={color}
              isAnimationActive={false}
              shape={(p: any) => <M cx={p.cx} cy={p.cy} color={color} />}
            />
          );
        })}
        <Legend
          layout="horizontal"
          verticalAlign="middle"
          align="center"
          wrapperStyle={{ left: 0, top: 0, width: CHART_W, height: CHART_H, margin: 0, pointerEvents: 'none' }}
          content={() => <LegendContent />}
        />
      </ScatterChart>
    </div>
  );
}
